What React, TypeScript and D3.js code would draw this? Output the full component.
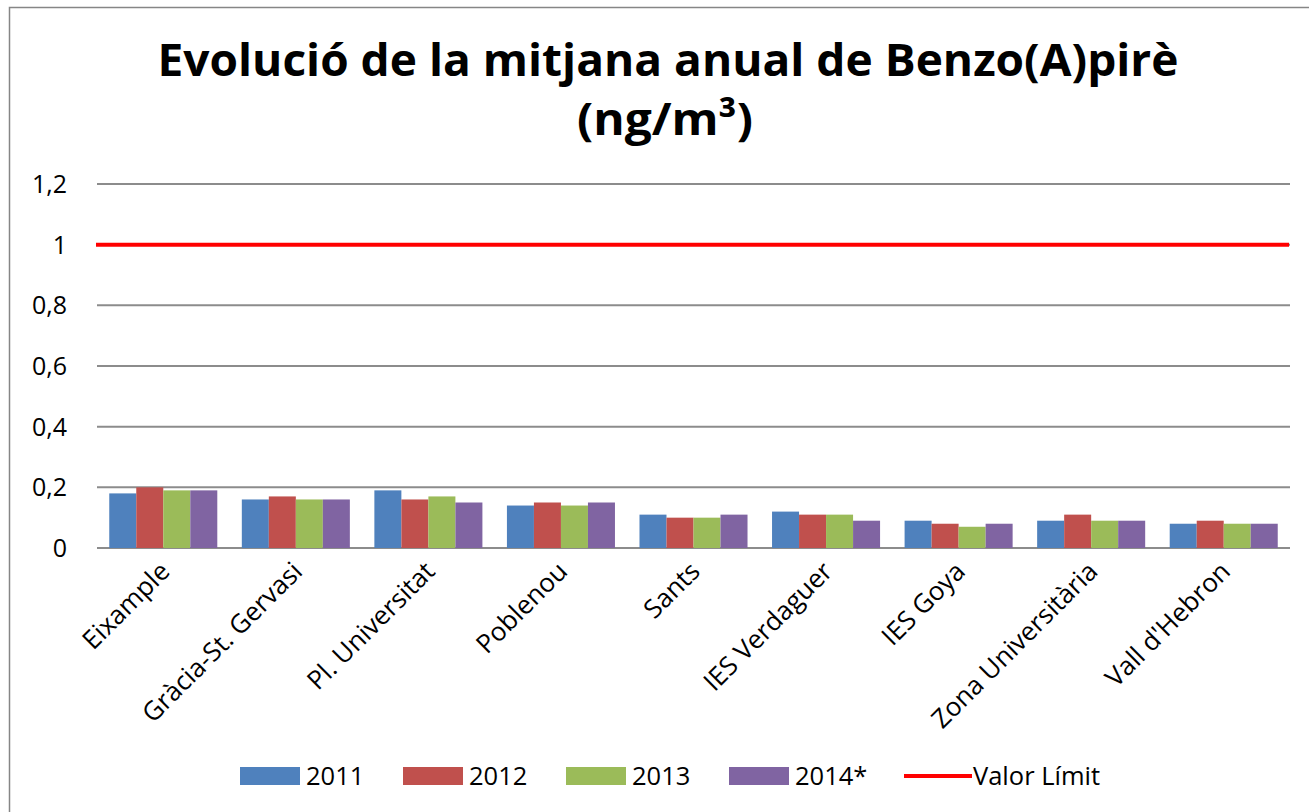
import React, { useEffect, useRef } from "react";
import * as d3 from "d3";

// stations and yearly means of benzo(a)pyrene (ng/m3)
const categories = [
  "Eixample",
  "Gràcia-St. Gervasi",
  "Pl. Universitat",
  "Poblenou",
  "Sants",
  "IES Verdaguer",
  "IES Goya",
  "Zona Universitària",
  "Vall d'Hebron",
];
const seriesNames = ["2011", "2012", "2013", "2014*"];
const v2011 = [0.18, 0.16, 0.19, 0.14, 0.11, 0.12, 0.09, 0.09, 0.08];
const v2012 = [0.2, 0.17, 0.16, 0.15, 0.1, 0.11, 0.08, 0.11, 0.09];
const v2013 = [0.19, 0.16, 0.17, 0.14, 0.1, 0.11, 0.07, 0.09, 0.08];
const v2014 = [0.19, 0.16, 0.15, 0.15, 0.11, 0.09, 0.08, 0.09, 0.08];
const limitValue = 1;
const yTicks = [0, 0.2, 0.4, 0.6, 0.8, 1, 1.2];
const colors = ["#4F81BD", "#C0504D", "#9BBB59", "#8064A2"];

const W = 1309;
const H = 812;
const FONT = "'Open Sans', sans-serif";

export default function App() {
  const ref = useRef<SVGSVGElement>(null);

  useEffect(() => {
    const node = ref.current;
    if (!node) return;
    const svg = d3.select(node);
    svg.selectAll("*").remove();

    const m = { t: 184, r: 19, b: 264, l: 97 }; // plot area 97..1290, 184..548
    const values = [v2011, v2012, v2013, v2014];

    // chart frame (right/bottom edges fall outside the picture)
    svg
      .append("rect")
      .attr("x", 9.5)
      .attr("y", 7.5)
      .attr("width", W + 10)
      .attr("height", H + 10)
      .attr("fill", "#fff")
      .attr("stroke", "#868686")
      .attr("stroke-width", 1.5);

    const x0 = d3
      .scaleBand()
      .domain(categories)
      .range([m.l, W - m.r])
      .paddingInner(0.185)
      .paddingOuter(0.0925);
    const x1 = d3.scaleBand().domain(seriesNames).range([0, x0.bandwidth()]);
    const y = d3.scaleLinear().domain([0, 1.2]).range([H - m.b, m.t]);

    // title
    const title = svg
      .append("text")
      .attr("text-anchor", "middle")
      .attr("font-family", FONT)
      .attr("font-weight", 700)
      .attr("font-size", 45)
      .attr("fill", "#000");
    title
      .append("tspan")
      .attr("x", 668)
      .attr("y", 76)
      .attr("textLength", 1021)
      .attr("lengthAdjust", "spacingAndGlyphs")
      .text("Evolució de la mitjana anual de Benzo(A)pirè");
    title
      .append("tspan")
      .attr("x", 665)
      .attr("y", 135)
      .attr("textLength", 176)
      .attr("lengthAdjust", "spacingAndGlyphs")
      .text("(ng/m³)");

    // gridlines + tick labels
    const grid = svg.append("g");
    grid
      .selectAll("line")
      .data(yTicks)
      .enter()
      .append("line")
      .attr("x1", m.l)
      .attr("x2", W - m.r)
      .attr("y1", d => y(d))
      .attr("y2", d => y(d))
      .attr("stroke", "#8c8c8c")
      .attr("stroke-width", 2);
    grid
      .selectAll("text")
      .data(yTicks)
      .enter()
      .append("text")
      .attr("x", 67)
      .attr("y", d => y(d))
      .attr("dy", "0.36em")
      .attr("text-anchor", "end")
      .attr("font-family", FONT)
      .attr("font-size", 25)
      .attr("fill", "#000")
      .text(d => d3.format("~g")(d).replace(".", ","));

    // bars
    const groups = svg
      .append("g")
      .selectAll("g")
      .data(categories)
      .enter()
      .append("g")
      .attr("transform", d => `translate(${x0(d)},0)`);
    groups
      .selectAll("rect")
      .data((_, i) => seriesNames.map((s, k) => ({ s, k, v: values[k][i] })))
      .enter()
      .append("rect")
      .attr("x", d => x1(d.s)!)
      .attr("y", d => y(d.v))
      .attr("width", x1.bandwidth())
      .attr("height", d => y(0) - y(d.v))
      .attr("fill", d => colors[d.k]);

    // limit line
    svg
      .append("line")
      .attr("x1", m.l - 1)
      .attr("x2", W - m.r - 1)
      .attr("y1", y(limitValue))
      .attr("y2", y(limitValue))
      .attr("stroke", "#FF0000")
      .attr("stroke-width", 4);

    // x labels, rotated 45deg
    svg
      .append("g")
      .selectAll("text")
      .data(categories)
      .enter()
      .append("text")
      .attr(
        "transform",
        d => `translate(${x0(d)! + x0.bandwidth() / 2 + 8},${y(0) + 25}) rotate(-45)`
      )
      .attr("text-anchor", "end")
      .attr("font-family", FONT)
      .attr("font-size", 26)
      .attr("fill", "#000")
      .text(d => d);

    // legend
    const legendY = 776;
    const items = [
      { name: "2011", sx: 240, tx: 306, kind: "bar", c: colors[0] },
      { name: "2012", sx: 403, tx: 469, kind: "bar", c: colors[1] },
      { name: "2013", sx: 566, tx: 632, kind: "bar", c: colors[2] },
      { name: "2014*", sx: 729, tx: 795, kind: "bar", c: colors[3] },
      { name: "Valor Límit", sx: 904, tx: 973, kind: "line", c: "#FF0000" },
    ];
    const lg = svg.append("g");
    items.forEach(it => {
      if (it.kind === "bar") {
        lg.append("rect")
          .attr("x", it.sx)
          .attr("y", legendY - 9)
          .attr("width", 60)
          .attr("height", 18)
          .attr("fill", it.c);
      } else {
        lg.append("line")
          .attr("x1", it.sx)
          .attr("x2", it.sx + 68)
          .attr("y1", legendY)
          .attr("y2", legendY)
          .attr("stroke", it.c)
          .attr("stroke-width", 4);
      }
      lg.append("text")
        .attr("x", it.tx)
        .attr("y", legendY)
        .attr("dy", "0.36em")
        .attr("font-family", FONT)
        .attr("font-size", 25.5)
        .attr("fill", "#000")
        .text(it.name);
    });
  }, []);

  return (
    <svg
      ref={ref}
      width={W}
      height={H}
      style={{ position: "absolute", left: 0, top: 0, display: "block" }}
    />
  );
}
